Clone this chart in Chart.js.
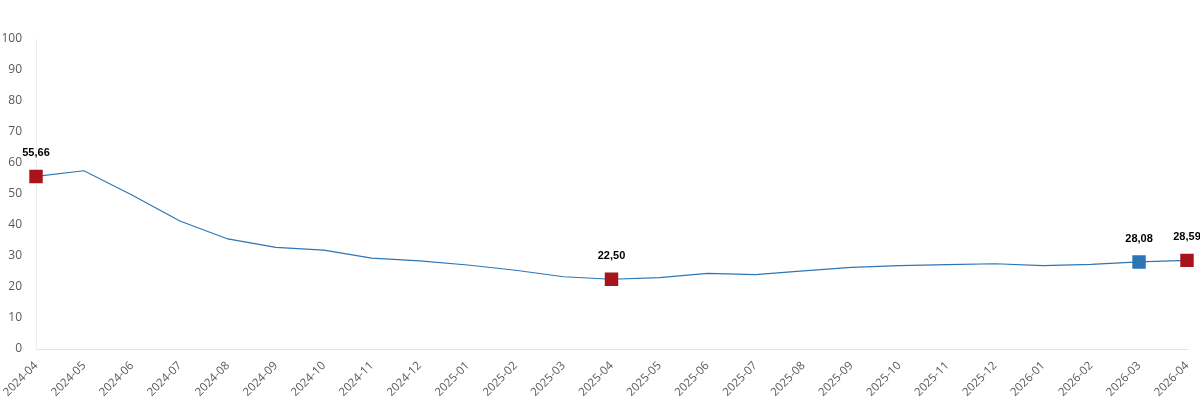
<!DOCTYPE html>
<html lang="tr">
<head>
    <meta charset="UTF-8">
    <title>Line chart 2024-04 to 2026-04</title>
    <script src="https://cdn.jsdelivr.net/npm/chart.js"></script>
    <style>
        html, body { margin: 0; padding: 0; background: #fff; }
        #wrap { width: 1200px; height: 403px; position: relative; }
    </style>
</head>
<body>
    <div id="wrap"><canvas id="lineChart"></canvas></div>

    <script>
        // data
        const months = ['2024-04', '2024-05', '2024-06', '2024-07', '2024-08', '2024-09', '2024-10',
            '2024-11', '2024-12', '2025-01', '2025-02', '2025-03', '2025-04', '2025-05', '2025-06',
            '2025-07', '2025-08', '2025-09', '2025-10', '2025-11', '2025-12', '2026-01', '2026-02',
            '2026-03', '2026-04'];
        const values = [55.66, 57.5, 49.7, 41.3, 35.5, 32.8, 31.9, 29.3, 28.4, 27.1, 25.4, 23.3, 22.50,
            23.0, 24.4, 24.0, 25.2, 26.3, 26.9, 27.2, 27.5, 26.9, 27.3, 28.08, 28.59];
        // which points get a marker + value label: 'red', 'blue' or null
        const markers = ['red', null, null, null, null, null, null, null, null, null, null, null, 'red',
            null, null, null, null, null, null, null, null, null, null, 'blue', 'red'];
        const yTicks = [0, 10, 20, 30, 40, 50, 60, 70, 80, 90, 100];

        const RED = '#A8141C';
        const BLUE = '#2E75B6';

        const pointColors = markers.map(m => m === 'red' ? RED : (m === 'blue' ? BLUE : 'transparent'));
        const pointSizes = markers.map(m => m ? 9.5 : 0);

        // draws "55,66" style labels above the marked points
        const valueLabels = {
            id: 'valueLabels',
            afterDatasetsDraw(chart) {
                const ctx = chart.ctx;
                const meta = chart.getDatasetMeta(0);
                ctx.save();
                ctx.font = 'bold 11px "Liberation Sans", Arial, sans-serif';
                ctx.fillStyle = '#000';
                ctx.textAlign = 'center';
                ctx.textBaseline = 'middle';
                meta.data.forEach((pt, i) => {
                    if (!markers[i]) return;
                    const txt = values[i].toFixed(2).replace('.', ',');
                    ctx.fillText(txt, pt.x, pt.y - 23);
                });
                ctx.restore();
            }
        };

        new Chart(document.getElementById('lineChart').getContext('2d'), {
            type: 'line',
            data: {
                labels: months,
                datasets: [{
                    data: values,
                    borderColor: BLUE,
                    borderWidth: 1.2,
                    tension: 0,
                    pointStyle: 'rect',
                    pointRadius: pointSizes,
                    pointHoverRadius: pointSizes,
                    pointBackgroundColor: pointColors,
                    pointBorderColor: pointColors,
                    pointBorderWidth: 0
                }]
            },
            options: {
                responsive: true,
                maintainAspectRatio: false,
                animation: false,
                layout: { padding: { top: 39, right: 13, left: 0, bottom: 0 } },
                plugins: {
                    legend: { display: false },
                    tooltip: { enabled: false }
                },
                scales: {
                    x: {
                        offset: false,
                        grid: { display: false },
                        border: { display: true, color: '#e3e3e3' },
                        ticks: {
                            color: '#595959',
                            font: { family: '"Open Sans", sans-serif', size: 11.5 },
                            minRotation: 45,
                            maxRotation: 45,
                            autoSkip: false,
                            padding: 2
                        },
                        afterFit(scale) { scale.height = 54; }
                    },
                    y: {
                        min: 0,
                        max: 100,
                        afterBuildTicks(scale) { scale.ticks = yTicks.map(v => ({ value: v })); },
                        grid: { display: false },
                        border: { display: true, color: '#eeeeee' },
                        ticks: {
                            color: '#595959',
                            font: { family: '"Open Sans", sans-serif', size: 12 },
                            padding: 6
                        },
                        afterFit(scale) { scale.width = 36; }
                    }
                }
            },
            plugins: [valueLabels]
        });
    </script>
</body>
</html>
